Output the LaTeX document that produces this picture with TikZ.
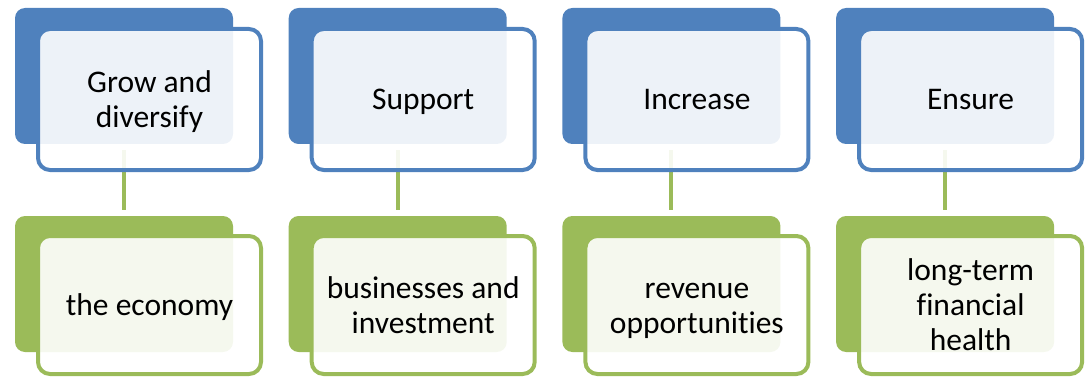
\documentclass[tikz,border=0pt]{standalone}
\usepackage{fontspec}
\setmainfont{Carlito}[Ligatures=NoCommon]
\definecolor{accblue}{HTML}{4F81BD}
\definecolor{accgreen}{HTML}{9BBB59}
% fixed line strut: 28pt above and 7pt below the baseline
\newcommand\ls{\rule[-7pt]{0pt}{35pt}}
\begin{document}
\begin{tikzpicture}[x=1pt,y=-1pt,
  backbox/.style={rectangle, rounded corners=10pt, minimum width=218pt,
    minimum height=136pt, inner sep=0pt, fill=#1},
  frontbox/.style={rectangle, rounded corners=12pt, minimum width=223pt,
    inner sep=0pt, draw=#1, line width=4pt, fill=white, fill opacity=0.9,
    text opacity=1, align=center,
    font=\fontsize{31.5}{35}\selectfont},
  link/.style={draw=accgreen, line width=4pt, shorten <=6pt, shorten >=6pt}]
\useasboundingbox (0,0) rectangle (1092,377);
% coloured back panels
\foreach \i in {0,1,2,3}{
  \node[backbox=accblue]  (tb\i) at (124+\i*273.7,76)  {};
  \node[backbox=accgreen] (bb\i) at (124+\i*273.7,284) {};
}
% vertical links between the two rows
\foreach \i in {0,1,2,3}{
  \draw[link] (tb\i.south) -- (bb\i.north);
}
% outlined text panels
\foreach \i/\upper/\lower in {
  0/{\ls Grow and\\\ls diversify}/{\ls the economy},
  1/{\ls Support}/{\ls businesses and\\\ls investment},
  2/{\ls Increase}/{\ls revenue\\\ls opportunities},
  3/{\ls Ensure}/{\ls long-term\\\ls financial\\\ls health}}{
  \node[frontbox=accblue, minimum height=141pt]  (tf\i) at (149.5+\i*273.7,99.5) {\upper};
  \node[frontbox=accgreen, minimum height=138pt] (bf\i) at (149.5+\i*273.7,305) {\lower};
}
\end{tikzpicture}
\end{document}
